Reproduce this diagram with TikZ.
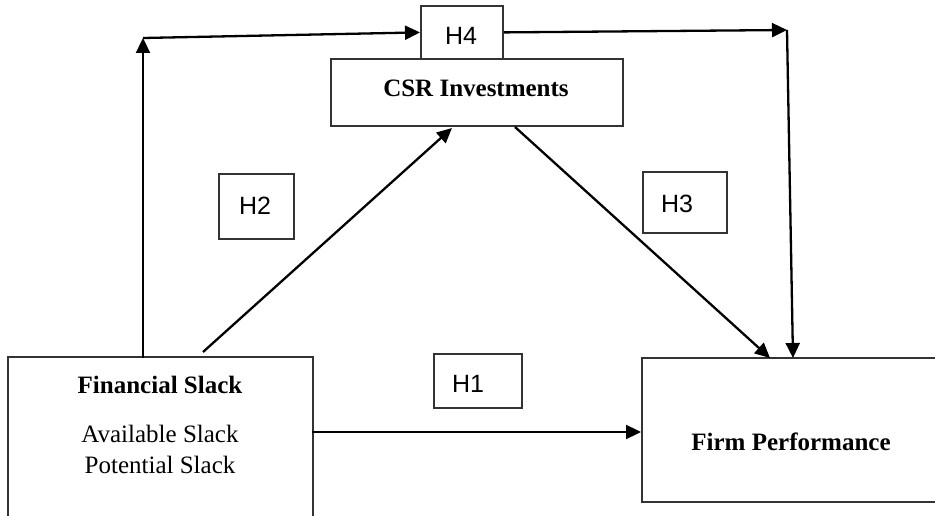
\documentclass[tikz,border=0pt]{standalone}
\usepackage{fontspec}
\setmainfont{Liberation Serif}
\newfontfamily\hfont{Liberation Sans}
\usetikzlibrary{arrows.meta}
\begin{document}
\begin{tikzpicture}[x=1pt,y=1pt,
  box/.style={draw=black!80,line width=2.2pt,inner sep=0pt},
  hbox/.style={box},
  lab/.style={inner sep=0pt,anchor=base,font=\fontsize{25}{29}\selectfont},
  hlab/.style={inner sep=0pt,anchor=base,font=\hfont\fontsize{25}{29}\selectfont},
  conn/.style={draw=black,line width=2.3pt,-{Triangle[length=15pt,width=14pt]}}]
\clip (0,0) rectangle (935,515);
\fill[white] (0,0) rectangle (935,515);
% boxes
\node[box,anchor=south west,minimum width=305pt,minimum height=177pt] (fs) at (7,-20) {};
\node[box,anchor=south west,minimum width=310pt,minimum height=144pt] (fp) at (641,12) {};
\node[box,anchor=south west,minimum width=292pt,minimum height=67pt] (csr) at (330,388) {};
\node[hbox,anchor=south west,minimum width=82pt,minimum height=53pt] (h4) at (420,455) {};
\node[hbox,anchor=south west,minimum width=75pt,minimum height=65pt] (h2) at (218,275) {};
\node[hbox,anchor=south west,minimum width=84pt,minimum height=61pt] (h3) at (642,281) {};
\node[hbox,anchor=south west,minimum width=88pt,minimum height=54pt] (h1) at (433,106) {};
% texts
\node[lab,font=\bfseries\fontsize{25}{29}\selectfont] (fst) at (160,122) {Financial Slack};
\node[lab] (fsa) at (160,73) {Available Slack};
\node[lab] (fsp) at (160,42) {Potential Slack};
\node[lab,font=\bfseries\fontsize{25}{29}\selectfont] (fpt) at (791,65) {Firm Performance};
\node[lab,font=\bfseries\fontsize{25}{29}\selectfont] (csrt) at (476,418) {CSR Investments};
\node[hlab] (h4t) at (461,470) {H4};
\node[hlab] (h2t) at (255,300) {H2};
\node[hlab] (h3t) at (677,302) {H3};
\node[hlab] (h1t) at (468,123) {H1};
% connector points
\coordinate (fsup) at (143,157);
\coordinate (tl) at (143,477);
\coordinate (tr) at (787,485);
\coordinate (fpin4) at (793,157);
\coordinate (h2s) at (203,163);
\coordinate (h2e) at (452,387);
\coordinate (h3s) at (515,388);
\coordinate (h3e) at (770,157);
\coordinate (h1s) at (312,83);
\coordinate (h1e) at (641,83);
% connectors
\draw[conn] (fsup) -- (tl);
\draw[conn] (tl) -- (h4.west);
\draw[conn] (h4.east) -- (tr);
\draw[conn] (tr) -- (fpin4);
\draw[conn] (h2s) -- (h2e);
\draw[conn] (h3s) -- (h3e);
\draw[conn] (h1s) -- (h1e);
\end{tikzpicture}
\end{document}
